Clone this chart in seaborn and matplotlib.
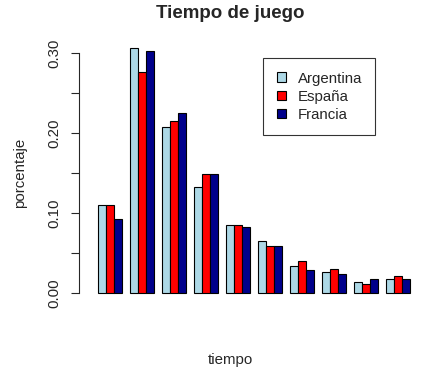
import matplotlib
matplotlib.use("Agg")
import matplotlib.pyplot as plt
import pandas as pd
import seaborn as sns

# Data
tiempo = [str(i) for i in range(1, 11)]
argentina = [0.110, 0.306, 0.207, 0.133, 0.085, 0.065, 0.034, 0.026, 0.014, 0.017]
espana = [0.110, 0.276, 0.215, 0.149, 0.085, 0.059, 0.040, 0.030, 0.011, 0.021]
francia = [0.093, 0.303, 0.225, 0.149, 0.083, 0.059, 0.029, 0.024, 0.017, 0.018]
paises = ["Argentina", "España", "Francia"]
colores = ["#ADD8E6", "#FF0000", "#00008B"]

df = pd.DataFrame({
    "tiempo": tiempo * 3,
    "porcentaje": argentina + espana + francia,
    "pais": [p for p in paises for _ in tiempo],
})

sns.set_style("white")
plt.rcParams["font.family"] = ["Liberation Sans", "DejaVu Sans"]

W, H = 434, 374
fig = plt.figure(figsize=(W / 100, H / 100), dpi=100)
ax = fig.add_axes([79 / W, 77 / H, 341 / W, 260 / H])

sns.barplot(data=df, x="tiempo", y="porcentaje", hue="pais", order=tiempo,
            hue_order=paises, palette=colores, saturation=1, width=0.75,
            edgecolor="black", linewidth=0.8, ax=ax)

ax.set_xlim(-31 / 32, 310 / 32)
ax.set_ylim(-0.005, 0.32)

# R-style axes: only a left axis spanning the ticks
for s in ["top", "right", "bottom"]:
    ax.spines[s].set_visible(False)
ax.spines["left"].set_bounds(0, 0.30)
ax.spines["left"].set_linewidth(0.8)
ax.set_xticks([])
ax.set_yticks([0, 0.05, 0.10, 0.15, 0.20, 0.25, 0.30])
ax.set_yticklabels(["0.00", "", "0.10", "", "0.20", "", "0.30"],
                   rotation=90, va="center", fontsize=10.8)
ax.tick_params(axis="y", direction="out", length=5.8, width=0.8, pad=7, left=True)
ax.set_xlabel("")
ax.set_ylabel("")

fig.text(230 / W, 1 - 14 / H, "Tiempo de juego", ha="center", va="center",
         fontsize=13.5, fontweight="bold")
fig.text(230 / W, 1 - 360 / H, "tiempo", ha="center", va="center", fontsize=10.8)
fig.text(20 / W, 1 - 173 / H, "porcentaje", ha="center", va="center",
         rotation=90, fontsize=10.8)

leg = ax.legend(loc="upper left", bbox_to_anchor=(263 / W, 1 - 58 / H),
                bbox_transform=fig.transFigure, fancybox=False, shadow=False,
                frameon=True, edgecolor="black", fontsize=10.8,
                handlelength=0.6, handleheight=0.6, handletextpad=0.8,
                borderpad=0.9, labelspacing=0.28, borderaxespad=0)
leg.get_frame().set_linewidth(0.8)

fig.savefig("out.png", dpi=100)
